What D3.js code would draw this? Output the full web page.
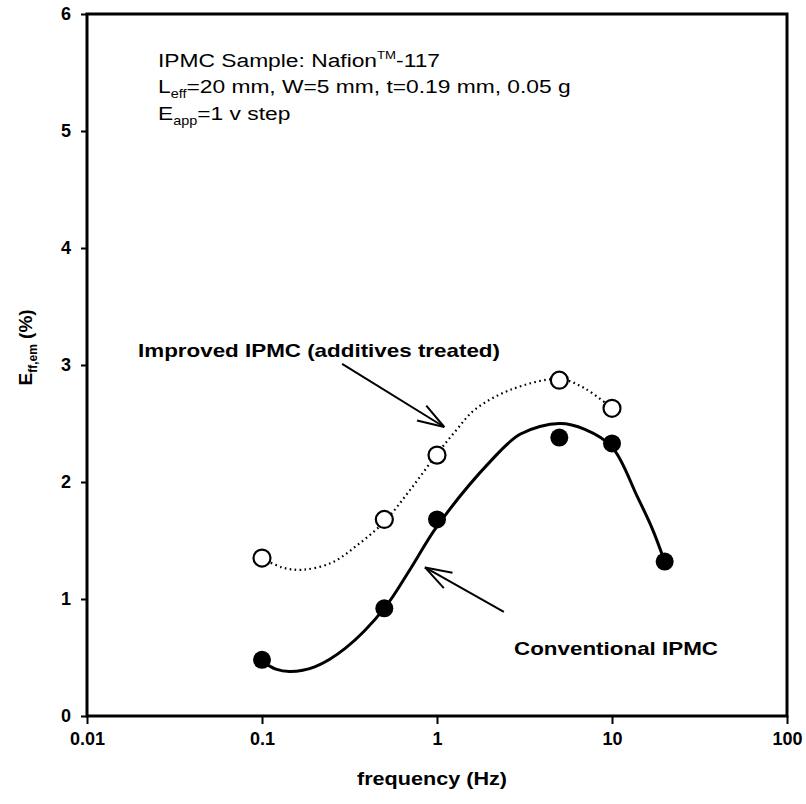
<!DOCTYPE html>
<html>
    <head>
        <meta charset="utf-8">
        <script src="https://d3js.org/d3.v7.min.js"></script>
        <style>
            body { margin: 0; background: #fff; }
            text { font-family: "Liberation Sans", Arial, sans-serif; fill: #000; }
        </style>
    </head>
    <body>
        <script>
            // DATA ////////////////////////////////////////////////////////////////

            const xTicks = [0.01, 0.1, 1, 10, 100];
            const xTickLabels = ["0.01", "0.1", "1", "10", "100"];
            const yTicks = [0, 1, 2, 3, 4, 5, 6];

            // measured points
            const improvedFreq = [0.1, 0.5, 1, 5, 10];
            const improvedVal  = [1.35, 1.68, 2.23, 2.87, 2.63];
            const convFreq = [0.1, 0.5, 1, 5, 10, 20];
            const convVal  = [0.48, 0.92, 1.68, 2.38, 2.33, 1.32];

            // fitted curves
            const improvedFitFreq = [0.1, 0.13, 0.17, 0.25, 0.35, 0.5, 0.7, 1, 1.3, 1.65, 2.65, 5, 7, 10];
            const improvedFitVal  = [1.35, 1.27, 1.25, 1.31, 1.46, 1.66, 1.93, 2.24, 2.45, 2.62, 2.79, 2.88, 2.8, 2.63];
            const convFitFreq = [0.1, 0.12, 0.145, 0.2, 0.3, 0.5, 0.7, 1, 2, 3, 5, 7, 10, 14, 17, 20];
            const convFitVal  = [0.47, 0.4, 0.38, 0.42, 0.58, 0.92, 1.25, 1.62, 2.17, 2.41, 2.5, 2.45, 2.3, 1.87, 1.6, 1.32];

            // annotation arrows [from, to] in data units
            const improvedArrow = [[0.287, 3.01], [1.1, 2.47]];
            const convArrow = [[2.41, 0.89], [0.854, 1.27]];

            // CHART ///////////////////////////////////////////////////////////////

            const width = 806, height = 804;
            const margin = { left: 87, top: 14, right: 19, bottom: 88 };
            const font = "'Liberation Sans', Arial, sans-serif";

            const svg = d3.select("body").append("svg")
                .attr("width", width)
                .attr("height", height);

            const xSc = d3.scaleLog().domain([0.01, 100])
                          .range([margin.left, width - margin.right]);
            const ySc = d3.scaleLinear().domain([0, 6])
                          .range([height - margin.bottom, margin.top]);

            // X AXIS
            const xAx = svg.append("g")
                .attr("transform", `translate(0,${ySc(0)})`)
                .call(d3.axisBottom(xSc).tickValues(xTicks)
                        .tickFormat((d, i) => xTickLabels[i]).tickSize(8).tickPadding(8));
            xAx.select(".domain").remove();
            xAx.selectAll("line").attr("stroke", "#000").attr("stroke-width", 2);
            xAx.selectAll("text").attr("font-size", 18).attr("font-weight", "bold")
               .attr("font-family", font);

            // Y AXIS
            const yAx = svg.append("g")
                .attr("transform", `translate(${xSc(0.01)},0)`)
                .call(d3.axisLeft(ySc).tickValues(yTicks).tickFormat(d3.format("d"))
                        .tickSize(6).tickPadding(10));
            yAx.select(".domain").remove();
            yAx.selectAll("line").attr("stroke", "#000").attr("stroke-width", 2);
            yAx.selectAll("text").attr("font-size", 18).attr("font-weight", "bold")
               .attr("font-family", font);

            // FRAME
            svg.append("rect")
               .attr("x", xSc(0.01)).attr("y", ySc(6))
               .attr("width", xSc(100) - xSc(0.01)).attr("height", ySc(0) - ySc(6))
               .attr("fill", "none").attr("stroke", "#000").attr("stroke-width", 3);

            // CURVES
            const line = d3.line()
                .x(d => xSc(d[0])).y(d => ySc(d[1]))
                .curve(d3.curveCatmullRom.alpha(0.5));

            svg.append("path")
               .attr("d", line(improvedFitFreq.map((f, i) => [f, improvedFitVal[i]])))
               .attr("fill", "none").attr("stroke", "#000")
               .attr("stroke-width", 2.2).attr("stroke-dasharray", "1.6,3.4");

            svg.append("path")
               .attr("d", line(convFitFreq.map((f, i) => [f, convFitVal[i]])))
               .attr("fill", "none").attr("stroke", "#000").attr("stroke-width", 3);

            // POINTS
            svg.append("g").selectAll("circle")
               .data(improvedFreq.map((f, i) => [f, improvedVal[i]]))
               .join("circle")
               .attr("cx", d => xSc(d[0])).attr("cy", d => ySc(d[1])).attr("r", 8.5)
               .attr("fill", "#fff").attr("stroke", "#000").attr("stroke-width", 2.2);

            svg.append("g").selectAll("circle")
               .data(convFreq.map((f, i) => [f, convVal[i]]))
               .join("circle")
               .attr("cx", d => xSc(d[0])).attr("cy", d => ySc(d[1])).attr("r", 9)
               .attr("fill", "#000");

            // ARROWS
            function arrow(a) {
                const x1 = xSc(a[0][0]), y1 = ySc(a[0][1]);
                const x2 = xSc(a[1][0]), y2 = ySc(a[1][1]);
                const ang = Math.atan2(y2 - y1, x2 - x1);
                const len = 28, spread = 0.32;
                const g = svg.append("g").attr("stroke", "#000").attr("stroke-width", 2).attr("fill", "none");
                g.append("line").attr("x1", x1).attr("y1", y1).attr("x2", x2).attr("y2", y2);
                [ang + spread, ang - spread].forEach(t => {
                    g.append("line").attr("x1", x2).attr("y1", y2)
                     .attr("x2", x2 - len * Math.cos(t)).attr("y2", y2 - len * Math.sin(t));
                });
            }
            arrow(improvedArrow);
            arrow(convArrow);

            // LABELS (source text is stretched sideways)
            svg.append("text").attr("x", 138).attr("y", ySc(3.07))
               .attr("font-size", 19).attr("font-weight", "bold")
               .attr("textLength", 362).attr("lengthAdjust", "spacingAndGlyphs")
               .text("Improved IPMC (additives treated)");
            svg.append("text").attr("x", 514).attr("y", ySc(0.52))
               .attr("font-size", 19).attr("font-weight", "bold")
               .attr("textLength", 204).attr("lengthAdjust", "spacingAndGlyphs")
               .text("Conventional IPMC");

            // info text
            const info = svg.append("g").attr("font-size", 19)
                .attr("transform", "translate(158,0) scale(1.2,1)");
            const t1 = info.append("text").attr("x", 0).attr("y", 67);
            t1.append("tspan").text("IPMC Sample: Nafion");
            t1.append("tspan").attr("font-size", 11).attr("dy", -8).text("TM");
            t1.append("tspan").attr("dy", 8).text("-117");

            const t2 = info.append("text").attr("x", 0).attr("y", 93);
            t2.append("tspan").text("L");
            t2.append("tspan").attr("font-size", 12).attr("dy", 5).text("eff");
            t2.append("tspan").attr("dy", -5).text("=20 mm, W=5 mm, t=0.19 mm, 0.05 g");

            const t3 = info.append("text").attr("x", 0).attr("y", 120);
            t3.append("tspan").text("E");
            t3.append("tspan").attr("font-size", 12).attr("dy", 5).text("app");
            t3.append("tspan").attr("dy", -5).text("=1 v step");

            // AXIS TITLES
            svg.append("text").attr("x", 432).attr("y", 785)
               .attr("text-anchor", "middle").attr("font-size", 19).attr("font-weight", "bold")
               .attr("textLength", 150).attr("lengthAdjust", "spacingAndGlyphs")
               .text("frequency (Hz)");

            const yt = svg.append("text")
               .attr("transform", `translate(32,${ySc(3.15)}) rotate(-90)`)
               .attr("font-size", 19).attr("font-weight", "bold");
            yt.append("tspan").text("E");
            yt.append("tspan").attr("font-size", 12).attr("dy", 5).text("ff,em");
            yt.append("tspan").attr("dy", -5).text(" (%)");
            // centre it along the axis
            const ytLen = yt.node().getComputedTextLength();
            yt.attr("transform", `translate(32,${ySc(3.15) + ytLen / 2}) rotate(-90)`);
        </script>
    </body>
</html>
